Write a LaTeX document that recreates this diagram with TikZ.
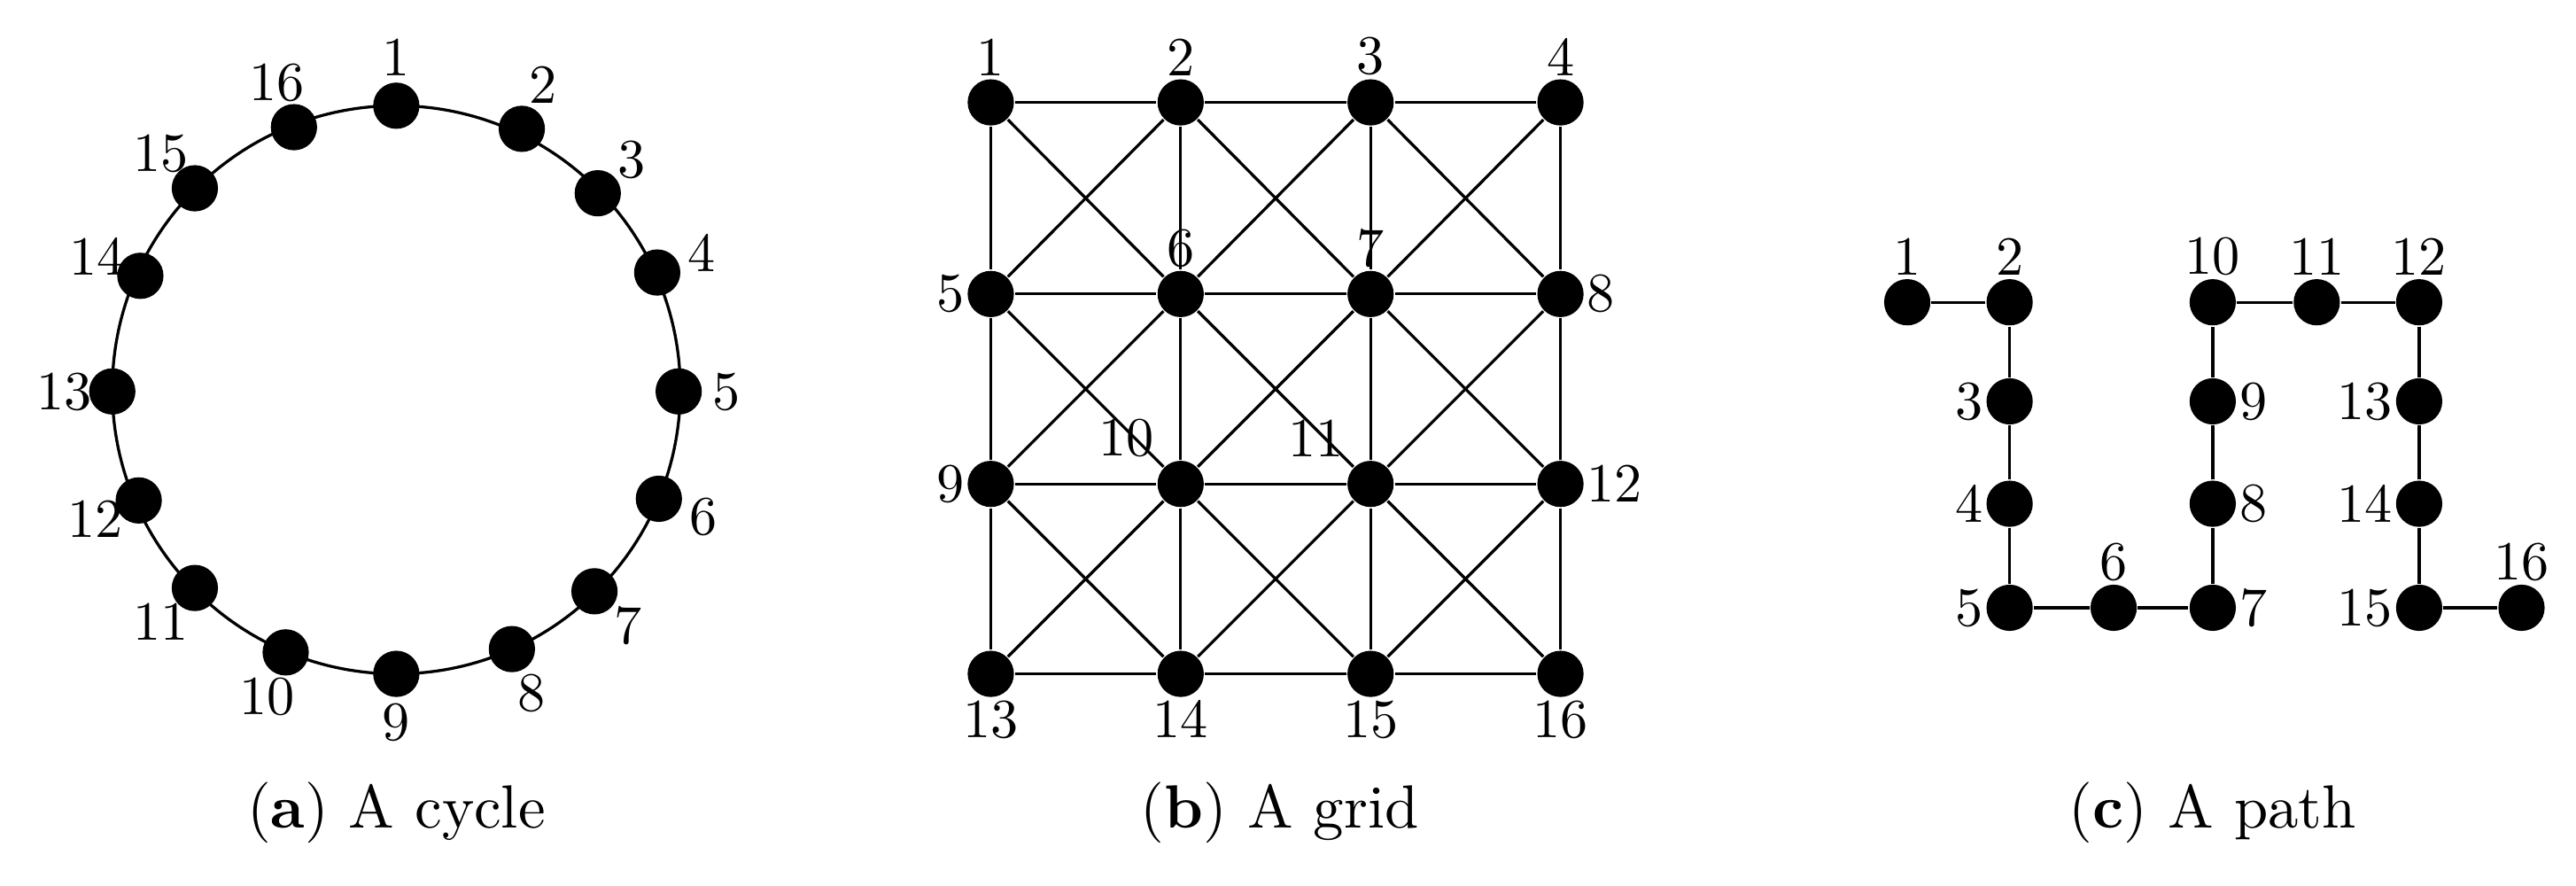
\documentclass[tikz,border=0pt]{standalone}
\usetikzlibrary{calc}
\begin{document}
\begin{tikzpicture}[x=0.01cm,y=-0.01cm,
  v/.style={circle,fill=black,inner sep=0pt,minimum size=0.28cm},
  lb/.style={font=\fontsize{9.5}{11}\selectfont,inner sep=1pt},
  captxt/.style={font=\fontsize{10.5}{12}\selectfont},
  e/.style={line width=0.5pt}]
\useasboundingbox (0,0) rectangle (1560,536);
% (a) cycle
\foreach \i/\x/\y in {1/240/64,2/316/78,3/362/117,4/398/165,5/411/237,6/399/302,7/360/358,8/310/393,9/240/408,10/173/395,11/118/356,12/84/303,13/68/237,14/85/167,15/118/114,16/178/77}
  \node[v] (c\i) at (\x,\y) {};
\draw[e] (240,236) circle[radius=172*0.01cm];
\foreach \i/\x/\y in {1/240/64,2/316/78,3/362/117,4/398/165,5/411/237,6/399/302,7/360/358,8/310/393,9/240/408,10/173/395,11/118/356,12/84/303,13/68/237,14/85/167,15/118/114,16/178/77}
  \node[lb] (lc\i) at ($(240,236)!1.17!(\x,\y)$) {\i};
% (b) grid
\foreach \r/\y in {0/62,1/178,2/293,3/408}
  \foreach \c/\x in {0/600,1/715,2/830,3/945}{
    \pgfmathtruncatemacro\n{\r*4+\c+1}
    \node[v] (g\n) at (\x,\y) {};}
\foreach \r in {0,1,2,3}
  \foreach \c in {0,1,2}{
    \pgfmathtruncatemacro\a{\r*4+\c+1}\pgfmathtruncatemacro\b{\a+1}
    \draw[e] (g\a) -- (g\b);}
\foreach \r in {0,1,2}
  \foreach \c in {0,1,2,3}{
    \pgfmathtruncatemacro\a{\r*4+\c+1}\pgfmathtruncatemacro\b{\a+4}
    \draw[e] (g\a) -- (g\b);}
\foreach \r in {0,1,2}
  \foreach \c in {0,1,2}{
    \pgfmathtruncatemacro\a{\r*4+\c+1}\pgfmathtruncatemacro\b{\a+5}
    \pgfmathtruncatemacro\p{\a+1}\pgfmathtruncatemacro\q{\a+4}
    \draw[e] (g\a) -- (g\b); \draw[e] (g\p) -- (g\q);}
\foreach \n/\pos in {1/above,2/above,3/above,4/above,5/left,6/above,7/above,8/right,9/left,10/above left,11/above left,12/right,13/below,14/below,15/below,16/below}
  \node[lb,\pos=0.12cm] (lg\n) at (g\n) {\n};
% (c) path
\foreach \i/\x/\y in {1/1155/183,2/1217/183,3/1217/243,4/1217/305,5/1217/368,6/1280/368,7/1340/368,8/1340/305,9/1340/243,10/1340/183,11/1403/183,12/1465/183,13/1465/243,14/1465/305,15/1465/368,16/1527/368}
  \node[v] (p\i) at (\x,\y) {};
\foreach \i in {1,...,15}{\pgfmathtruncatemacro\j{\i+1}\draw[e] (p\i) -- (p\j);}
\foreach \n/\pos in {1/above,2/above,3/left,4/left,5/left,6/above,7/right,8/right,9/right,10/above,11/above,12/above,13/left,14/left,15/left,16/above}
  \node[lb,\pos=0.12cm] (lp\n) at (p\n) {\n};
% captions
\node[captxt] (ca) at (240,492) {(\textbf{a}) A cycle};
\node[captxt] (cb) at (775,492) {(\textbf{b}) A grid};
\node[captxt] (cc) at (1340,492) {(\textbf{c}) A path};
\end{tikzpicture}
\end{document}
